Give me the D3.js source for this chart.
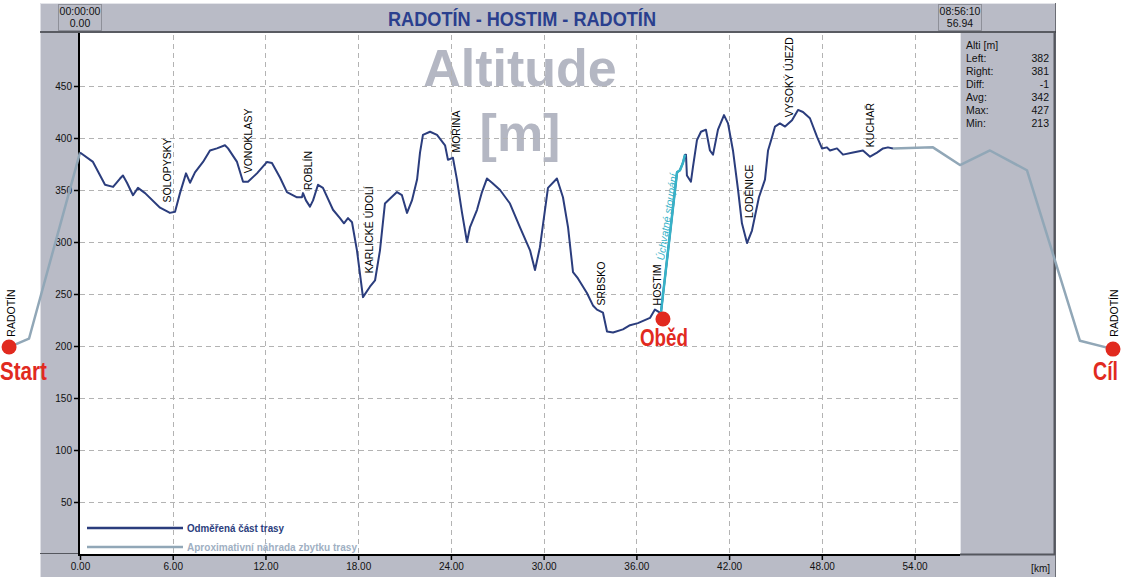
<!DOCTYPE html>
<html><head><meta charset="utf-8">
<script src="https://cdn.jsdelivr.net/npm/d3@7"></script>
<style>
body{margin:0;background:#fff;}
svg{display:block;font-family:"Liberation Sans",Arial,sans-serif;}
</style>
</head><body>
<svg id="c" width="1122" height="577"></svg>
<script>
// ---------------- DATA ----------------
const chartTitle = "RADOTÍN - HOSTIM - RADOTÍN";
const startTime = ["00:00:00", "0.00"];
const endTime = ["08:56:10", "56.94"];
const kmDist = [0.00,0.84,1.62,2.14,2.59,2.78,3.04,3.43,3.75,4.21,
  5.18,5.82,6.15,6.47,6.86,7.12,7.44,7.96,8.41,8.86,
  9.38,9.58,10.16,10.55,10.87,11.45,12.10,12.42,12.94,13.39,
  14.04,14.36,14.43,14.62,14.88,15.08,15.40,15.72,16.37,16.82,
  17.08,17.34,17.60,17.92,18.31,18.76,19.09,19.41,19.73,20.51,
  20.83,21.16,21.48,21.81,22.00,22.19,22.65,23.10,23.62,23.81,
  24.13,24.39,24.72,25.04,25.23,25.69,26.01,26.33,26.66,27.18,
  27.82,28.47,29.12,29.44,29.76,30.28,30.86,31.25,31.58,31.90,
  32.22,32.80,33.19,33.45,33.84,34.10,34.49,35.13,35.59,36.10,
  36.88,37.20,37.53,37.59,38.63,38.82,39.01,39.15,39.21,39.27,
  39.53,39.66,39.92,40.18,40.50,40.76,40.96,41.28,41.67,41.93,
  42.25,42.58,42.83,43.16,43.48,43.93,44.32,44.52,44.78,44.97,
  45.29,45.62,46.07,46.46,46.78,47.23,47.69,48.01,48.33,48.53,
  48.98,49.37,50.02,50.66,51.12,51.57,51.96,52.28,52.60];
const altitude = [386,377,355,353,361,364,357,345,352,347,
  333,328,329,347,366,357,367,377,388,390,
  393,390,377,358,358,366,377,376,362,348,
  343,343,347,340,334,340,355,352,331,323,
  318,323,319,292,247,257,263,292,337,348,
  345,328,340,360,386,403,406,403,393,379,
  381,360,328,300,314,331,348,361,357,350,
  337,314,292,273,295,352,361,343,314,271,
  265,251,239,235,232,214,213,216,220,222,
  227,235,232,232,367,369,376,384,384,364,
  358,372,398,406,408,388,384,408,422,414,
  388,350,318,299,311,343,360,388,401,411,
  414,411,417,427,425,419,401,390,391,388,
  390,384,386,388,382,386,390,391,390];
const climbKm = [37.59,38.63,38.82,39.01,39.15];
const climbAlt = [232,367,369,376,384];
const climbLabel = "Úchvatné stoupání";
const climbLabelKm = 37.79, climbLabelAlt = 282;
const approxLeftKm = [-4.59,-3.30,0.00];
const approxLeftAlt = [199,207,386];
const approxRightKm = [52.60,55.19,56.94,58.88,61.27,64.70,66.84];
const approxRightAlt = [390,391,374,388,369,205,197];
const placeNames = ["SOLOPYSKY","VONOKLASY","ROBLÍN","KARLICKÉ ÚDOLÍ","MOŘINA","SRBSKO","HOSTIM","LODĚNICE","VYSOKÝ ÚJEZD","KUCHAŘ","RADOTÍN","RADOTÍN"];
const placeKm = [5.89,11.13,15.01,18.96,24.59,33.97,37.59,43.55,46.13,51.37,-4.21,67.16];
const placeAlt = [338,366,350,270,386,239,239,323,420,391,209,209];
const markerNames = ["Start","Oběd","Cíl"];
const markerKm = [-4.59,37.72,66.84];
const markerAlt = [199,226,197];
const xTicks = [0,6,12,18,24,30,36,42,48,54];
const yTicks = [50,100,150,200,250,300,350,400,450];
const statsHeader = "Alti [m]";
const statLabels = ["Left:","Right:","Diff:","Avg:","Max:","Min:"];
const statValues = ["382","381","-1","342","427","213"];
const legendLabels = ["Odměřená část trasy","Aproximativní náhrada zbytku  trasy"];
const watermark = ["Altitude","[m]"];
const xUnit = "[km]";

// ---------------- LAYOUT ----------------
const svg = d3.select("#c");
const W = 1122, H = 577;
const PL = 80, PR = 960, PT = 34, PB = 554;
const gray = "#b9bbc6", navy = "#2b3d7d", light = "#91a7b7", cyan = "#36b2c8", red = "#e12a1f";
const x = d3.scaleLinear().domain([0, 56.94]).range([PL, PR]);
const y = d3.scaleLinear().domain([0, 500]).range([PB, PT]);

function narrowText(sel, width) {
  return sel.attr("textLength", width).attr("lengthAdjust", "spacingAndGlyphs");
}

svg.append("rect").attr("width", W).attr("height", H).attr("fill", "#fff");
// frame
svg.append("rect").attr("x", 40).attr("y", 3).attr("width", 1016).attr("height", 574).attr("fill", gray);
svg.append("line").attr("x1", 40).attr("x2", 1056).attr("y1", 3.5).attr("y2", 3.5).attr("stroke", "#e4e5ea");
svg.append("line").attr("x1", 40.5).attr("x2", 40.5).attr("y1", 3).attr("y2", 577).attr("stroke", "#dfe0e6");
svg.append("line").attr("x1", 1055.5).attr("x2", 1055.5).attr("y1", 3).attr("y2", 577).attr("stroke", "#6b6d75");
svg.append("line").attr("x1", 40).attr("x2", 1056).attr("y1", 32).attr("y2", 32).attr("stroke", "#3a3b40").attr("stroke-width", 1.5);

// time boxes
[[58, startTime], [938, endTime]].forEach(([bx, t]) => {
  svg.append("rect").attr("x", bx + 0.5).attr("y", 4.5).attr("width", 43).attr("height", 26)
    .attr("fill", gray).attr("stroke", "#8e9099");
  t.forEach((s, i) => svg.append("text").attr("x", bx + 22).attr("y", 15 + i * 12)
    .attr("text-anchor", "middle").attr("font-size", 10.5).attr("fill", "#111").text(s));
});
// title
narrowText(svg.append("text").attr("x", 388).attr("y", 26)
  .attr("font-weight", "bold").attr("font-size", 21)
  .attr("fill", "#2a3f8e").text(chartTitle), 268);

// plot area
svg.append("rect").attr("x", PL).attr("y", 33).attr("width", PR - PL).attr("height", PB - 33).attr("fill", "#fff");
// left panel edge
svg.append("line").attr("x1", 40).attr("x2", 78).attr("y1", 553.5).attr("y2", 553.5).attr("stroke", "#55575e");
// right panel
svg.append("rect").attr("x", 960).attr("y", 33).attr("width", 95).attr("height", 521).attr("fill", gray);
svg.append("line").attr("x1", 960.5).attr("x2", 960.5).attr("y1", 33).attr("y2", 555).attr("stroke", "#e6e7ec");
svg.append("line").attr("x1", 960).attr("x2", 1055).attr("y1", 554.5).attr("y2", 554.5).attr("stroke", "#55575e").attr("stroke-width", 2);
svg.append("line").attr("x1", 1054.5).attr("x2", 1054.5).attr("y1", 33).attr("y2", 555).attr("stroke", "#55575e").attr("stroke-width", 2);

// watermark
svg.append("text").attr("x", 520).attr("y", 86).attr("text-anchor", "middle").attr("font-size", 52)
  .attr("font-weight", "bold").attr("fill", "#b4b7c3").text(watermark[0]);
svg.append("text").attr("x", 520).attr("y", 151).attr("text-anchor", "middle").attr("font-size", 52)
  .attr("font-weight", "bold").attr("fill", "#b4b7c3").text(watermark[1]);

// grid
const grid = svg.append("g").attr("stroke", "#b3b3b3").attr("stroke-dasharray", "5,4").attr("stroke-width", 1);
xTicks.filter(d => d > 0).forEach(d => grid.append("line").attr("x1", Math.round(x(d)) + 0.5).attr("x2", Math.round(x(d)) + 0.5).attr("y1", 35).attr("y2", PB));
yTicks.forEach(d => grid.append("line").attr("x1", PL).attr("x2", PR).attr("y1", Math.round(y(d)) + 0.5).attr("y2", Math.round(y(d)) + 0.5));

// axes
const yAxis = svg.append("g").attr("transform", "translate(79,0)")
  .call(d3.axisLeft(y).tickValues(yTicks).tickSize(5).tickPadding(2).tickFormat(d3.format("d")));
yAxis.select(".domain").remove();
yAxis.selectAll("text").attr("font-size", 10).attr("fill", "#111").style("font-family", '"Liberation Sans",Arial,sans-serif');
yAxis.selectAll(".tick line").attr("stroke", "#000").attr("stroke-width", 1.5);
svg.append("line").attr("x1", 79).attr("x2", 79).attr("y1", 33).attr("y2", 556).attr("stroke", "#000").attr("stroke-width", 2);

const xAxis = svg.append("g").attr("transform", "translate(0,555)")
  .call(d3.axisBottom(x).tickValues(xTicks).tickSize(5).tickPadding(3).tickFormat(d3.format(".2f")));
xAxis.select(".domain").remove();
xAxis.selectAll("text").attr("font-size", 10).attr("fill", "#111").style("font-family", '"Liberation Sans",Arial,sans-serif');
xAxis.selectAll(".tick line").attr("stroke", "#000").attr("stroke-width", 1.5);
svg.append("line").attr("x1", 79).attr("x2", 960).attr("y1", 555).attr("y2", 555).attr("stroke", "#000").attr("stroke-width", 2);
svg.append("text").attr("x", 1050).attr("y", 572).attr("text-anchor", "end").attr("font-size", 10).attr("fill", "#111").text(xUnit);

// stats panel
svg.append("text").attr("x", 966).attr("y", 49).attr("font-size", 10.5).attr("fill", "#111").text(statsHeader);
statLabels.forEach((l, i) => {
  svg.append("text").attr("x", 966).attr("y", 62 + i * 13).attr("font-size", 10.5).attr("fill", "#111").text(l);
  svg.append("text").attr("x", 1049).attr("y", 62 + i * 13).attr("text-anchor", "end").attr("font-size", 10.5).attr("fill", "#111").text(statValues[i]);
});

// lines
const line = d3.line().x(d => x(d[0])).y(d => y(d[1]));
const approxL = approxLeftKm.map((k, i) => [k, approxLeftAlt[i]]);
const approxR = approxRightKm.map((k, i) => [k, approxRightAlt[i]]);
[approxL, approxR].forEach(a => svg.append("path").attr("d", line(a)).attr("fill", "none")
  .attr("stroke", light).attr("stroke-width", 2.5).attr("stroke-linejoin", "round"));
const prof = kmDist.map((k, i) => [k, altitude[i]]);
svg.append("path").attr("d", line(prof)).attr("fill", "none").attr("stroke", navy)
  .attr("stroke-width", 2).attr("stroke-linejoin", "round");
const climb = climbKm.map((k, i) => [k, climbAlt[i]]);
svg.append("path").attr("d", line(climb)).attr("fill", "none").attr("stroke", cyan)
  .attr("stroke-width", 2.5).attr("stroke-linejoin", "round");

// climb label
const c0 = climb[0], c1 = climb[climb.length - 1];
const ang = Math.atan2(y(c1[1]) - y(c0[1]), x(c1[0]) - x(c0[0])) * 180 / Math.PI;
svg.append("text").attr("transform", `translate(${x(climbLabelKm)},${y(climbLabelAlt)}) rotate(${ang})`)
  .attr("font-size", 10.5).attr("font-style", "italic").attr("fill", cyan).text(climbLabel);

// place labels
placeNames.forEach((n, i) => {
  svg.append("text").attr("transform", `translate(${x(placeKm[i])},${y(placeAlt[i])}) rotate(-90)`)
    .attr("font-size", 10.5).attr("fill", "#000").text(n);
});

// markers
markerNames.forEach((n, i) => {
  svg.append("circle").attr("cx", x(markerKm[i])).attr("cy", y(markerAlt[i])).attr("r", 7.5).attr("fill", red);
});
const mt = [[0, 380, 26, 47], [x(markerKm[1]) - 23, 346, 23, 48], [x(markerKm[2]) - 20, 380, 26, 25]];
markerNames.forEach((n, i) => {
  narrowText(svg.append("text").attr("x", mt[i][0]).attr("y", mt[i][1])
    .attr("font-weight", "bold").attr("font-size", mt[i][2])
    .attr("fill", red).text(n), mt[i][3]);
});

// legend
[[528, navy, "#2b3d7d", 97], [547, light, "#9fb0c3", 170]].forEach(([ly, col, tcol, tw], i) => {
  svg.append("line").attr("x1", 87).attr("x2", 183).attr("y1", ly).attr("y2", ly).attr("stroke", col).attr("stroke-width", 2.5);
  narrowText(svg.append("text").attr("x", 187).attr("y", ly + 4).attr("font-size", 11.5).attr("font-weight", "bold")
    .attr("fill", tcol).text(legendLabels[i]), tw);
});
</script>
</body></html>
